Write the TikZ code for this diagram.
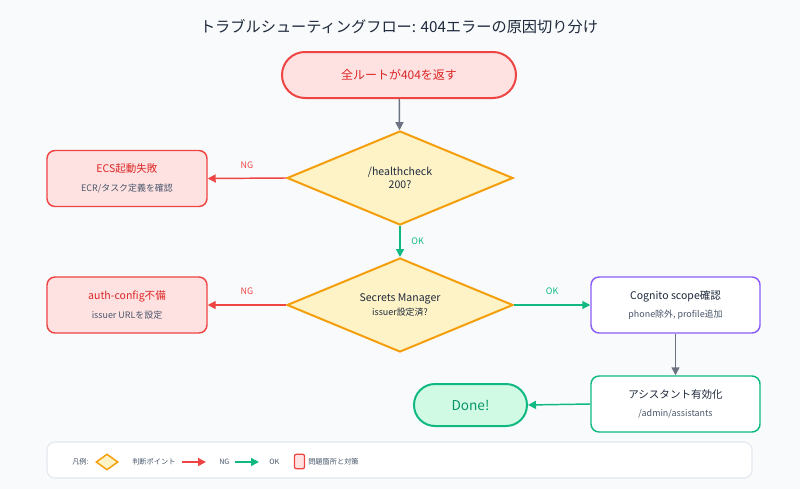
\documentclass[tikz,border=0pt]{standalone}
\usepackage{fontspec}
\setmainfont{Noto Sans CJK JP}
\usetikzlibrary{shapes.geometric,shapes.misc,arrows.meta}
\definecolor{bg}{HTML}{F8FAFC}
\definecolor{titlec}{HTML}{1E293B}
\definecolor{redb}{HTML}{EF4444}
\definecolor{redf}{HTML}{FEE2E2}
\definecolor{redt}{HTML}{DC2626}
\definecolor{subt}{HTML}{475569}
\definecolor{ambb}{HTML}{F59E0B}
\definecolor{ambf}{HTML}{FEF3C7}
\definecolor{grnb}{HTML}{10B981}
\definecolor{grnf}{HTML}{D1FAE5}
\definecolor{grnt}{HTML}{059669}
\definecolor{purb}{HTML}{8B5CF6}
\definecolor{grayarr}{HTML}{6B7280}
\definecolor{legb}{HTML}{E2E8F0}
\newcommand{\mainf}{\fontsize{7.9}{10}\selectfont}
\newcommand{\subf}{\fontsize{6.7}{9}\selectfont}
\newcommand{\legf}{\fontsize{5.4}{7}\selectfont}
\begin{document}
\begin{tikzpicture}[x=0.75pt,y=-0.75pt,
  every node/.style={inner sep=0pt, text=titlec},
  pill/.style={rounded rectangle, draw=redb, fill=redf, line width=1.5pt},
  box/.style={rectangle, rounded corners=6pt, line width=1.1pt, align=center},
  probbox/.style={box, draw=redb, fill=redf, minimum width=120pt, minimum height=42pt},
  okbox/.style={box, fill=white, minimum width=126.75pt, minimum height=42pt},
  decide/.style={diamond, draw=ambb, fill=ambf, line width=1.5pt, aspect=2.4,
     minimum width=169.5pt, minimum height=70.5pt, align=center, font=\mainf},
  arr/.style={line width=1.1pt, -{Triangle[length=6pt,width=6pt]}},
  ngarr/.style={arr, draw=redb},
  okarr/.style={arr, draw=grnb},
  grayarr/.style={arr, draw=grayarr},
  lbl/.style={font=\subf},
  legtext/.style={font=\legf, anchor=west, text=subt},
]
\useasboundingbox (0,0) rectangle (800,489);
\fill[bg] (0,0) rectangle (800,489);

\node[font=\fontsize{11.4}{13}\selectfont, text=titlec] (title) at (399,27) {トラブルシューティングフロー: 404エラーの原因切り分け};

\node[pill, minimum width=175.5pt, minimum height=34.5pt, text=redt, font=\fontsize{9}{11}\selectfont] (start) at (399,75) {全ルートが404を返す};

\node[decide] (d1) at (400,178) {/healthcheck\\[0pt]200?};
\node[decide] (d2) at (400,305) {Secrets Manager\\[1pt]{\subf issuer設定済?}};

\node[probbox] (ecs) at (127,178.5) {{\mainf\color{redt}ECS起動失敗}\\[2pt]{\subf\color{subt}ECR/タスク定義を確認}};
\node[probbox] (auth) at (127,305) {{\mainf\color{redt}auth-config不備}\\[2pt]{\subf\color{subt}issuer URLを設定}};

\node[okbox, draw=purb] (cog) at (675.5,305) {{\mainf Cognito scope確認}\\[2pt]{\subf\color{subt}phone除外, profile追加}};
\node[okbox, draw=grnb] (asst) at (675.5,404) {{\mainf アシスタント有効化}\\[2pt]{\subf\color{subt}/admin/assistants}};

\node[rounded rectangle, draw=grnb, fill=grnf, line width=1.5pt, minimum width=84.75pt, minimum height=31.5pt, text=grnt, font=\fontsize{10.2}{12}\selectfont] (done) at (470.5,405) {Done!};

\draw[grayarr] (start) -- (d1);
\draw[ngarr] (d1.west) -- node[lbl, above=7pt, text=redb] {NG} (ecs.east);
\draw[okarr] (d1.south) -- node[lbl, right=8pt, text=grnb] {OK} (d2.north);
\draw[ngarr] (d2.west) -- node[lbl, above=7pt, text=redb] {NG} (auth.east);
\draw[okarr] (d2.east) -- node[lbl, above=7pt, text=grnb] {OK} (cog.west);
\draw[grayarr] (cog) -- (asst);
\draw[okarr] (asst.west) -- (done.east);

% legend
\node[rectangle, rounded corners=6pt, draw=legb, fill=white, line width=0.8pt, minimum width=528.75pt, minimum height=27pt] (leg) at (399.5,460) {};
\node[legtext] (legt) at (72,462) {凡例:};
\node[diamond, draw=ambb, fill=ambf, line width=1.1pt, minimum width=16.5pt, minimum height=12pt, aspect=1.4] (legd) at (107,462) {};
\node[legtext] (legdt) at (132,462) {判断ポイント};
\coordinate (ng1) at (182,462); \coordinate (ng2) at (206,462);
\draw[ngarr] (ng1) -- (ng2);
\node[legtext] (legng) at (219,462) {NG};
\coordinate (ok1) at (235,462); \coordinate (ok2) at (259,462);
\draw[okarr] (ok1) -- (ok2);
\node[legtext] (legok) at (269,462) {OK};
\node[rectangle, rounded corners=1.5pt, draw=redb, fill=redf, line width=0.9pt, minimum width=7.5pt, minimum height=11pt] (legp) at (299.5,461.5) {};
\node[legtext] (legpt) at (308,462) {問題箇所と対策};
\end{tikzpicture}
\end{document}
